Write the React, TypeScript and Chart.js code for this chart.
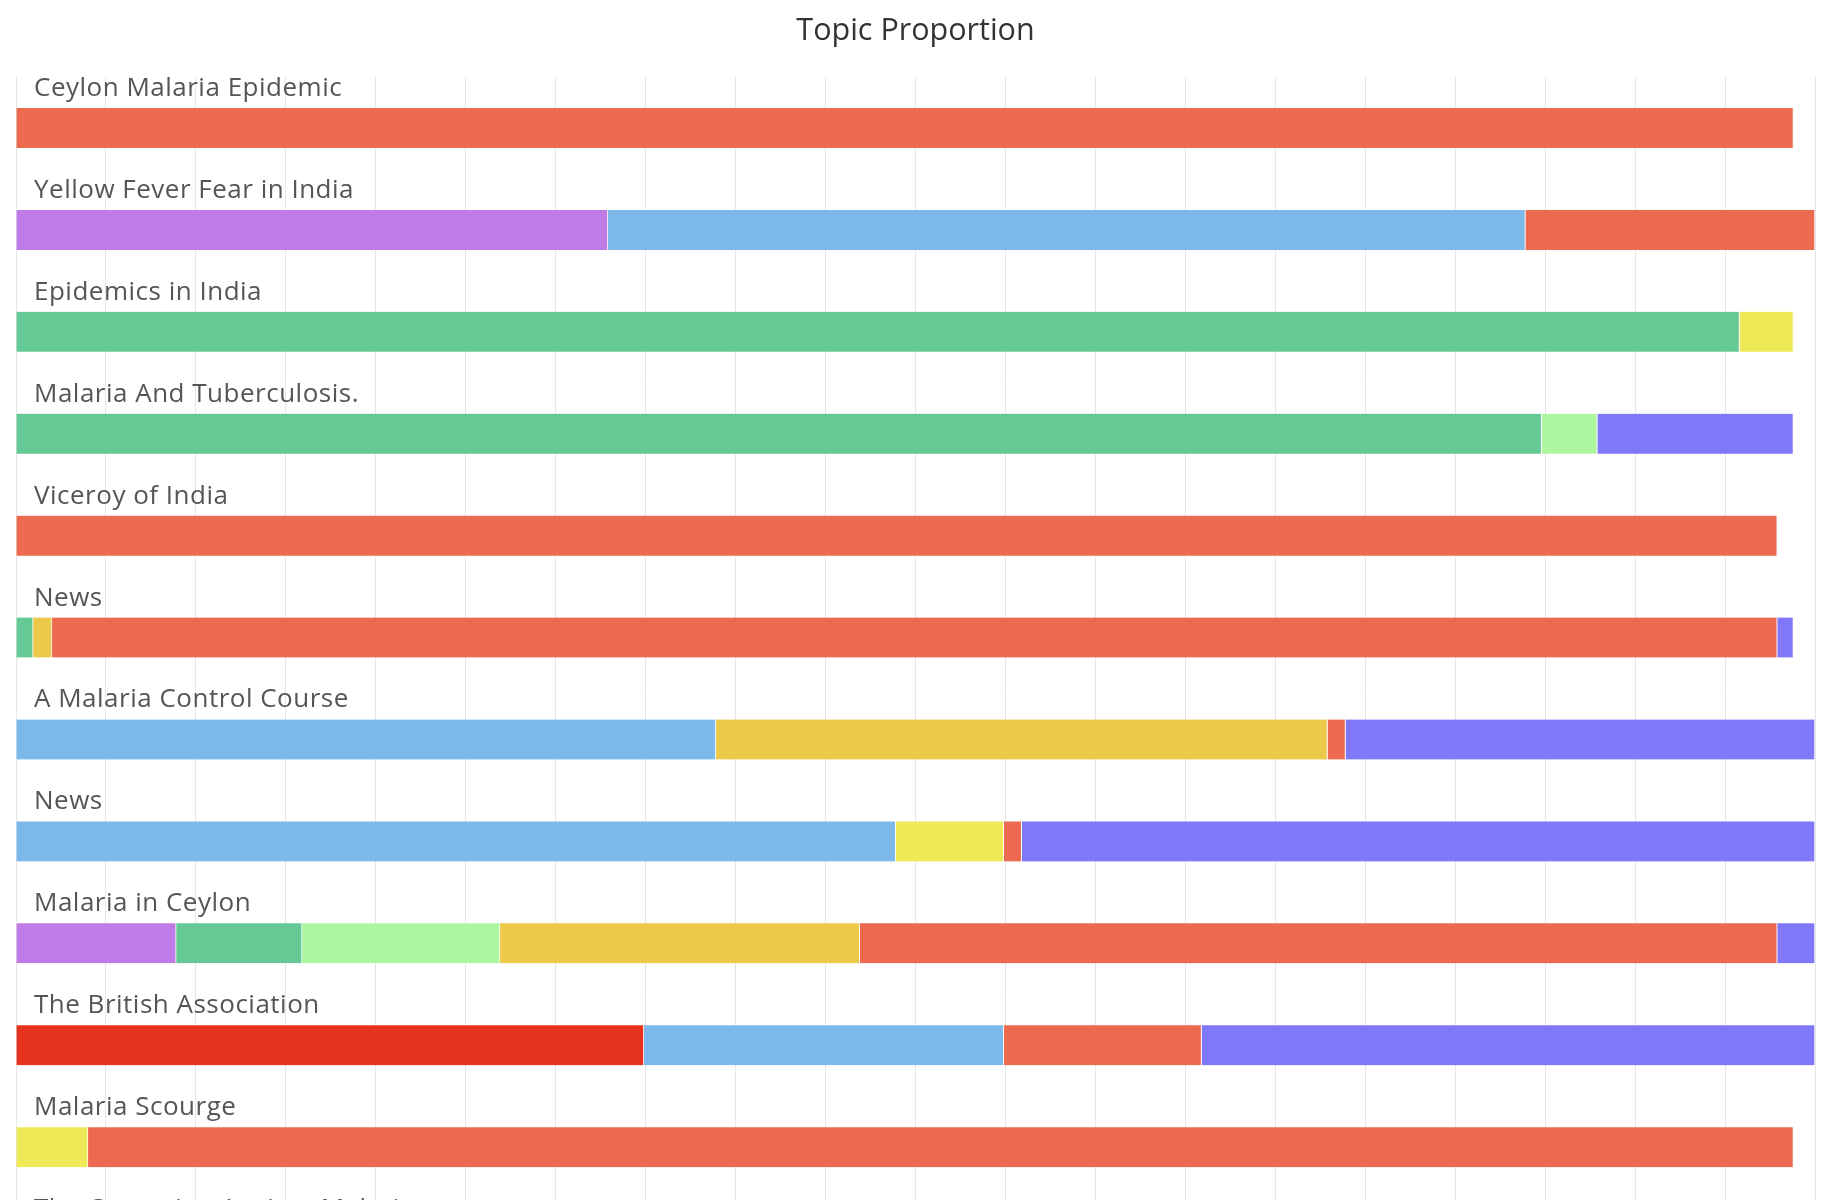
import React, { useEffect, useRef } from "react";
import { Chart, registerables } from "chart.js";

Chart.register(...registerables);

const chartTitle = "Topic Proportion";

const categories = [
  "Ceylon Malaria Epidemic",
  "Yellow Fever Fear in India",
  "Epidemics in India",
  "Malaria And Tuberculosis.",
  "Viceroy of India",
  "News",
  "A Malaria Control Course",
  "News",
  "Malaria in Ceylon",
  "The British Association",
  "Malaria Scourge",
  "The Campaign Against Malaria",
];

const topicNames = [
  "Topic A",
  "Topic B",
  "Topic C",
  "Topic D",
  "Topic E",
  "Topic F",
  "Topic G",
  "Topic H",
  "Topic I",
];

const topicColors = [
  "#E5331F",
  "#BF7BE6",
  "#7DB8EA",
  "#64C994",
  "#AEF5A0",
  "#EEEA57",
  "#EDC94A",
  "#EC6A50",
  "#7F79FA",
];

const topicA = [null, null, null, null, null, null, null, null, null, 0.349, null, null];
const topicB = [null, 0.329, null, null, null, null, null, null, 0.089, null, null, null];
const topicC = [null, 0.51, null, null, null, null, 0.389, 0.489, null, 0.2, null, null];
const topicD = [null, null, 0.958, 0.848, null, 0.0095, null, null, 0.07, null, null, null];
const topicE = [null, null, null, 0.031, null, null, null, null, 0.11, null, null, null];
const topicF = [null, null, 0.03, null, null, null, null, 0.06, null, null, 0.04, null];
const topicG = [null, null, null, null, null, 0.0105, 0.34, null, 0.2, null, null, null];
const topicH = [0.988, 0.161, null, null, 0.979, 0.959, 0.01, 0.01, 0.51, 0.11, 0.948, null];
const topicI = [null, null, null, 0.109, null, 0.009, 0.261, 0.441, 0.021, 0.341, null, null];

const topicValues = [topicA, topicB, topicC, topicD, topicE, topicF, topicG, topicH, topicI];

const FONT = "'Open Sans', 'Noto Sans', sans-serif";

const rowLabelPlugin = {
  id: "rowLabels",
  afterDraw(chart: any) {
    const { ctx, chartArea, scales } = chart;
    const yScale = scales.y;
    ctx.save();
    ctx.font = `26px ${FONT}`;
    try {
      (ctx as any).letterSpacing = "0.5px";
    } catch (e) {}
    ctx.fillStyle = "#555555";
    ctx.textBaseline = "alphabetic";
    ctx.textAlign = "left";
    categories.forEach((label, i) => {
      ctx.fillText(label, chartArea.left + 18, yScale.getPixelForValue(i) - 32);
    });
    ctx.restore();
  },
};

export default function App() {
  const canvasRef = useRef<HTMLCanvasElement | null>(null);

  useEffect(() => {
    document.body.style.margin = "0";
    document.body.style.overflow = "hidden";
    const canvas = canvasRef.current;
    if (!canvas) return;
    const chart = new Chart(canvas, {
      type: "bar",
      data: {
        labels: categories,
        datasets: topicNames.map((name, i) => ({
          label: name,
          data: topicValues[i] as any,
          backgroundColor: topicColors[i],
          borderColor: "#ffffff",
          borderWidth: { left: 0, right: 1, top: 0, bottom: 0 },
          borderSkipped: false,
          barThickness: 40,
        })),
      },
      options: {
        indexAxis: "y",
        animation: false,
        responsive: true,
        maintainAspectRatio: false,
        layout: { padding: { left: 16, right: 16, top: 0, bottom: 0 } },
        plugins: {
          legend: { display: false },
          tooltip: { enabled: false },
          title: {
            display: true,
            text: chartTitle,
            color: "#333333",
            font: { family: FONT, size: 30.5, weight: "normal" as any },
            padding: { top: 13.5, bottom: 26.9 },
          },
        },
        scales: {
          x: {
            type: "linear",
            stacked: true,
            min: 0,
            max: 1,
            ticks: { display: false, stepSize: 0.05 },
            grid: { color: "#e6e6e6", drawTicks: false, lineWidth: 1 },
            border: { display: false },
          },
          y: {
            type: "category",
            stacked: true,
            display: false,
            grid: { display: false },
          },
        },
      },
      plugins: [rowLabelPlugin],
    });
    return () => chart.destroy();
  }, []);

  return (
    <div style={{ width: 1831, height: 1200, overflow: "hidden", background: "#fff" }}>
      <div style={{ position: "relative", width: 1831, height: 1300 }}>
        <canvas ref={canvasRef} />
      </div>
    </div>
  );
}
